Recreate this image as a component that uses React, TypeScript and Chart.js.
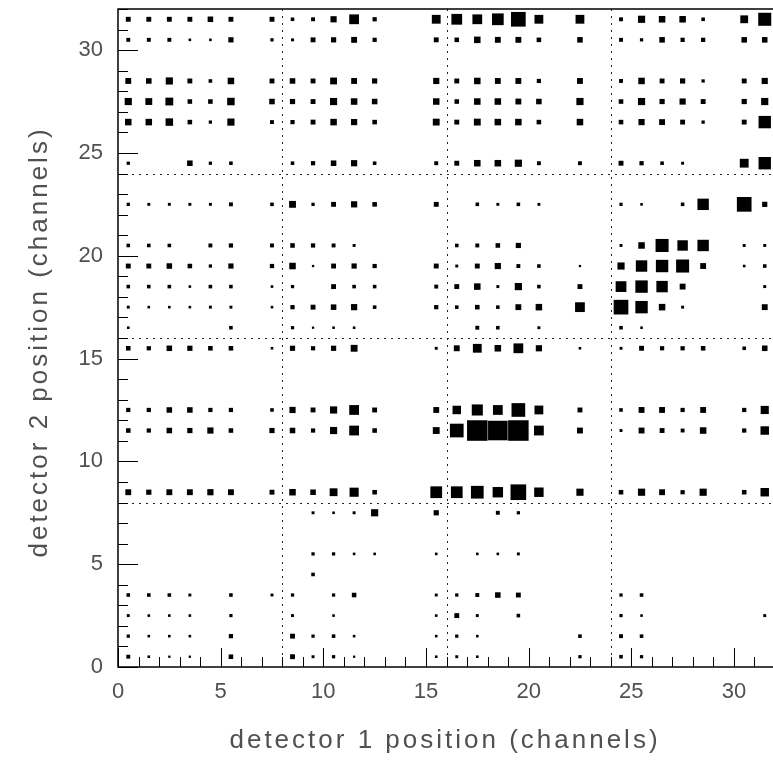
import React, { useEffect, useRef } from "react";
import { Chart, registerables } from "chart.js";

Chart.register(...registerables);

const nBins = 32;
const xTitle = "detector 1 position (channels)";
const yTitle = "detector 2 position (channels)";
const labelledTicks = [0, 5, 10, 15, 20, 25, 30];
const dividers = [8, 16, 24];

// bin contents, one array per detector-2 channel (index = detector-1 channel)
const row31 = [15,15,15,15,17,15,0,15, 11,12,19,30,13,0,0,27, 33,30,36,45,27,0,27,0, 12,22,20,20,11,0,24,40];
const row30 = [12,12,12,8,8,16,0,10, 9,15,16,18,13,0,0,15, 14,20,18,18,14,0,17,0, 12,10,17,13,13,0,17,17];
const row29 = [0,0,0,0,0,0,0,0, 0,0,0,0,0,0,0,0, 0,0,0,0,0,0,0,0, 0,0,0,0,0,0,0,0];
const row28 = [18,17,22,15,11,20,0,15, 17,15,21,18,16,0,0,19, 15,20,18,18,13,0,18,0, 12,20,15,16,10,0,15,19];
const row27 = [22,21,24,14,14,23,0,17, 16,15,22,20,17,0,0,20, 14,20,20,18,17,0,22,0, 14,22,16,19,15,0,16,22];
const row26 = [20,20,23,14,10,22,0,12, 13,15,20,19,14,0,0,21, 15,21,20,20,14,0,20,0, 14,19,18,15,10,0,15,38];
const row25 = [0,0,0,0,0,0,0,0, 0,0,0,0,0,0,0,0, 0,0,0,0,0,0,0,0, 0,0,0,0,0,0,0,0];
const row24 = [10,0,0,17,10,11,0,0, 11,13,17,19,11,0,0,12, 15,20,20,22,12,0,12,0, 15,13,11,9,0,0,27,38];
const row23 = [0,0,0,0,0,0,0,0, 0,0,0,0,0,0,0,0, 0,0,0,0,0,0,0,0, 0,0,0,0,0,0,0,0];
const row22 = [10,9,9,9,9,12,0,11, 21,10,15,19,14,0,0,15, 0,11,9,11,9,0,0,0, 10,8,0,11,35,0,45,16];
const row21 = [0,0,0,0,0,0,0,0, 0,0,0,0,0,0,0,0, 0,0,0,0,0,0,0,0, 0,0,0,0,0,0,0,0];
const row20 = [11,11,11,0,12,13,0,12, 14,13,12,9,0,0,0,0, 11,12,14,16,0,0,0,0, 9,20,40,32,35,0,9,9];
const row19 = [15,15,17,14,10,16,0,13, 20,7,15,16,13,0,0,15, 9,15,19,12,11,0,7,0, 22,35,38,40,18,0,8,11];
const row18 = [11,11,11,8,11,11,0,8, 10,0,15,11,11,0,0,12, 15,20,9,22,11,0,15,0, 33,38,35,18,0,0,0,9];
const row17 = [9,8,8,8,9,9,0,8, 13,15,17,19,11,0,0,13, 11,14,11,18,20,0,30,0, 45,38,20,9,0,0,0,18];
const row16 = [8,0,0,0,0,11,0,0, 10,7,8,8,0,0,0,0, 0,12,11,0,9,0,0,0, 11,8,0,0,0,0,0,0];
const row15 = [14,13,17,16,14,14,0,8, 16,13,16,21,0,0,0,9, 18,27,20,30,19,0,8,0, 9,15,13,13,14,0,11,17];
const row14 = [0,0,0,0,0,0,0,0, 0,0,0,0,0,0,0,0, 0,0,0,0,0,0,0,0, 0,0,0,0,0,0,0,0];
const row13 = [0,0,0,0,0,0,0,0, 0,0,0,0,0,0,0,0, 0,0,0,0,0,0,0,0, 0,0,0,0,0,0,0,0];
const row12 = [13,13,17,17,13,13,0,11, 19,15,22,30,15,0,0,18, 26,34,30,42,27,0,15,0, 11,18,18,13,18,0,13,25];
const row11 = [14,13,17,16,19,14,0,16, 17,13,22,30,14,0,0,21, 42,63,60,63,30,0,18,0, 9,18,15,12,20,0,13,26];
const row10 = [0,0,0,0,0,0,0,0, 0,0,0,0,0,0,0,0, 0,0,0,0,0,0,0,0, 0,0,0,0,0,0,0,0];
const row9 = [0,0,0,0,0,0,0,0, 0,0,0,0,0,0,0,0, 0,0,0,0,0,0,0,0, 0,0,0,0,0,0,0,0];
const row8 = [18,16,18,18,19,18,0,15, 20,17,24,28,14,0,0,36, 36,39,32,48,29,0,22,0, 14,22,18,13,22,0,14,26];
const row7 = [0,0,0,0,0,0,0,0, 0,9,8,9,22,0,0,16, 0,0,12,10,0,0,0,0, 0,0,0,0,0,0,0,0];
const row6 = [0,0,0,0,0,0,0,0, 0,0,0,0,0,0,0,0, 0,0,0,0,0,0,0,0, 0,0,0,0,0,0,0,0];
const row5 = [0,0,0,0,0,0,0,0, 0,10,10,8,8,0,0,8, 0,8,8,9,0,0,0,0, 0,0,0,0,0,0,0,0];
const row4 = [0,0,0,0,0,0,0,0, 0,11,0,0,0,0,0,0, 0,0,0,0,0,0,0,0, 0,0,0,0,0,0,0,0];
const row3 = [11,11,11,9,0,11,0,9, 10,0,10,14,0,0,0,9, 10,12,17,15,0,0,0,0, 10,11,0,0,0,0,0,0];
const row2 = [9,8,8,8,0,10,0,0, 9,0,8,0,0,0,0,8, 15,9,0,11,0,0,0,0, 10,8,0,0,0,0,0,9];
const row1 = [10,8,8,8,0,13,0,0, 15,10,11,8,0,0,0,8, 10,8,0,0,0,0,11,0, 12,11,0,0,0,0,0,0];
const row0 = [12,8,7,7,0,14,0,0, 15,9,10,7,0,0,0,8, 9,8,0,0,0,0,10,0, 11,10,0,0,0,0,0,0];

const rows = [
  row0, row1, row2, row3, row4, row5, row6, row7, row8, row9, row10, row11, row12, row13, row14, row15,
  row16, row17, row18, row19, row20, row21, row22, row23, row24, row25, row26, row27, row28, row29, row30, row31,
];

const FONT = "'Liberation Sans', Arial, sans-serif";
const TEXT_COLOR = "#505050";

export default function App() {
  const ref = useRef<HTMLCanvasElement | null>(null);

  useEffect(() => {
    document.body.style.margin = "0";
    const points: { x: number; y: number; v: number }[] = [];
    let vMax = 0;
    rows.forEach((r, j) =>
      r.forEach((v, i) => {
        if (v > 0) {
          points.push({ x: i + 0.5, y: j + 0.5, v });
          if (v > vMax) vMax = v;
        }
      })
    );

    const overlay = {
      id: "rootFrame",
      beforeDatasetsDraw(chart: any) {
        const { ctx, chartArea: a, scales } = chart;
        const xs = scales.x;
        const ys = scales.y;
        ctx.save();
        ctx.strokeStyle = "#222";
        ctx.lineWidth = 1;
        ctx.setLineDash([2, 5]);
        dividers.forEach((d) => {
          const px = Math.round(xs.getPixelForValue(d)) + 0.5;
          ctx.beginPath();
          ctx.moveTo(px, a.top);
          ctx.lineTo(px, a.bottom);
          ctx.stroke();
          const py = Math.round(ys.getPixelForValue(d)) + 0.5;
          ctx.beginPath();
          ctx.moveTo(a.left, py);
          ctx.lineTo(a.right, py);
          ctx.stroke();
        });
        ctx.restore();
      },
      afterDraw(chart: any) {
        const { ctx, chartArea: a, scales } = chart;
        const xs = scales.x;
        const ys = scales.y;
        ctx.save();
        ctx.strokeStyle = "#000";
        ctx.lineWidth = 1.5;
        ctx.setLineDash([]);
        ctx.strokeRect(a.left, a.top, a.right - a.left, a.bottom - a.top);
        ctx.lineWidth = 1;
        xs.ticks.forEach((t: any) => {
          const px = Math.round(xs.getPixelForValue(t.value)) + 0.5;
          const len = t.value % 5 === 0 ? 19 : 10;
          ctx.beginPath();
          ctx.moveTo(px, a.bottom);
          ctx.lineTo(px, a.bottom - len);
          ctx.stroke();
        });
        ys.ticks.forEach((t: any) => {
          const py = Math.round(ys.getPixelForValue(t.value)) + 0.5;
          const len = t.value % 5 === 0 ? 20 : 10;
          ctx.beginPath();
          ctx.moveTo(a.left, py);
          ctx.lineTo(a.left + len, py);
          ctx.stroke();
        });
        // axis titles
        ctx.fillStyle = TEXT_COLOR;
        ctx.font = `26px ${FONT}`;
        (ctx as any).letterSpacing = "3px";
        ctx.textAlign = "center";
        ctx.textBaseline = "middle";
        ctx.fillText(xTitle, 445, 741);
        ctx.translate(40, 342);
        ctx.rotate(-Math.PI / 2);
        ctx.fillText(yTitle, 0, 0);
        ctx.restore();
      },
    };

    const tickCb = (v: any) => (labelledTicks.includes(Number(v)) ? String(v) : "");
    const zeroPad = (s: any) => {
      s.paddingTop = 0;
      s.paddingBottom = 0;
      s.paddingLeft = 0;
      s.paddingRight = 0;
    };

    const chart = new Chart(ref.current as HTMLCanvasElement, {
      type: "scatter",
      data: {
        datasets: [
          {
            data: points as any,
            backgroundColor: "#000",
            borderWidth: 0,
            pointStyle: "rect",
            pointRadius: (c: any) => {
              const raw = c.raw;
              if (!raw) return 0;
              const xs = c.chart.scales.x;
              const bw = Math.abs(xs.getPixelForValue(1) - xs.getPixelForValue(0));
              return ((bw * raw.v) / vMax) / Math.SQRT2;
            },
            pointHoverRadius: 0,
          } as any,
        ],
      },
      options: {
        animation: false,
        responsive: false,
        events: [],
        layout: { padding: { top: 9, right: 1, left: 0, bottom: 0 } },
        plugins: { legend: { display: false }, tooltip: { enabled: false } },
        scales: {
          x: {
            type: "linear",
            min: 0,
            max: nBins,
            grid: { display: false, drawTicks: false },
            border: { display: false },
            ticks: {
              stepSize: 1,
              autoSkip: false,
              maxRotation: 0,
              padding: 12,
              color: TEXT_COLOR,
              font: { family: FONT, size: 22 },
              callback: tickCb,
            },
            afterFit: (s: any) => {
              s.height = 96;
              zeroPad(s);
            },
          },
          y: {
            type: "linear",
            min: 0,
            max: nBins,
            grid: { display: false, drawTicks: false },
            border: { display: false },
            ticks: {
              stepSize: 1,
              autoSkip: false,
              padding: 15,
              color: TEXT_COLOR,
              font: { family: FONT, size: 22 },
              callback: tickCb,
            },
            afterFit: (s: any) => {
              s.width = 118;
              zeroPad(s);
            },
          },
        },
      },
      plugins: [overlay],
    });
    return () => chart.destroy();
  }, []);

  return (
    <div
      style={{
        position: "fixed",
        left: 0,
        top: 0,
        width: 773,
        height: 763,
        overflow: "hidden",
        background: "#fff",
      }}
    >
      <canvas ref={ref} width={776} height={763} style={{ display: "block" }} />
    </div>
  );
}
